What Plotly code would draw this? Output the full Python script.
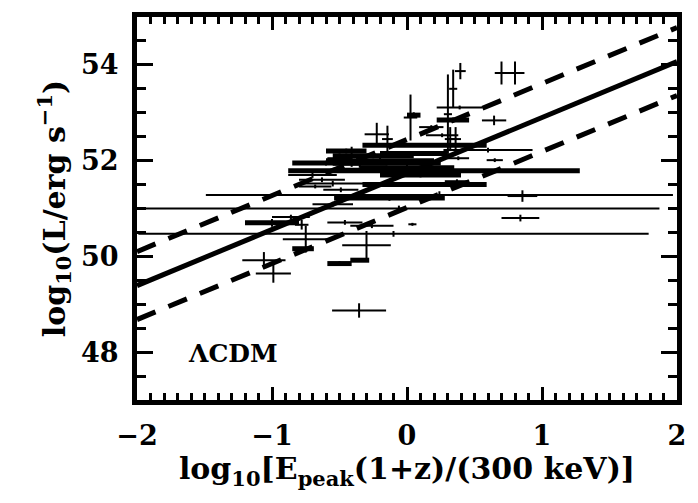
import plotly.graph_objects as go

# Luminosity vs rest-frame peak energy, LambdaCDM distances
# sample with narrow error bars
x_a = [-0.355, -1.06, -0.99, 0.70, 0.80, 0.855, 0.84, 0.645,
       0.24, -0.06, -0.10, 0.60,
       -0.75, -0.30, -0.86, -0.46, -0.26, 0.04, -0.78, -0.55,
       -0.49, -0.68, -0.63, 0.37, -0.41, -0.50, 0.38, 0.65,
       0.26, 0.18, 0.39, -0.224, -0.145, 0.026, 0.395, 0.342,
       0.303, 0.32, 0.36, -0.70, -0.55]
y_a = [48.87, 49.92, 49.64, 53.83, 53.83, 51.26, 50.80, 52.84,
       51.28, 51.00, 50.47, 52.22,
       50.36, 50.23, 50.82, 50.71, 50.64, 50.67, 50.66, 51.09,
       51.39, 51.46, 51.60, 51.57, 52.08, 52.05, 52.05, 52.01,
       52.53, 52.70, 53.11, 52.55, 52.45, 52.90, 53.87, 53.50,
       52.97, 52.45, 52.45, 51.70, 51.52]
xerr_a = [0.20, 0.16, 0.13, 0.05, 0.07, 0.11, 0.14, 0.09,
          1.73, 1.93, 1.89, 0.33,
          0.17, 0.18, 0.14, 0.13, 0.16, 0.03, 0.05, 0.15,
          0.13, 0.12, 0.17, 0.09, 0.09, 0.09, 0.08, 0.06,
          0.12, 0.09, 0.17, 0.09, 0.04, 0.05, 0.04, 0.03,
          0.03, 0.04, 0.04, 0.18, 0.25]
yerr_a = [0.15, 0.17, 0.19, 0.24, 0.24, 0.12, 0.07, 0.10,
          0.08, 0.06, 0.06, 0.05,
          0.28, 0.30, 0.05, 0.05, 0.05, 0.03, 0.10, 0.05,
          0.05, 0.04, 0.05, 0.04, 0.21, 0.10, 0.04, 0.04,
          0.04, 0.04, 0.04, 0.24, 0.28, 0.48, 0.17, 0.40,
          0.83, 0.25, 0.25, 0.06, 0.06]

# sample with broad error bars
x_b = [0.20, -0.35, -0.50, -0.77, -1.00, -0.13, 0.13, -0.20, 0.00,
       -0.35, 0.13, 0.34, 0.05, -0.25, -0.15, 0.05, -0.30, 0.10,
       -0.45, -0.60]
y_b = [51.79, 49.92, 49.85, 50.16, 50.70, 51.22, 51.50, 52.00, 51.85,
       51.95, 52.32, 52.85, 52.95, 52.10, 51.95, 52.15, 51.80, 51.70,
       52.20, 51.95]
xerr_b = [1.08, 0.07, 0.09, 0.08, 0.20, 0.41, 0.46, 0.40, 0.35,
          0.20, 0.46, 0.12, 0.05, 0.30, 0.40, 0.25, 0.25, 0.30,
          0.15, 0.25]
yerr_b = [0.04, 0.03, 0.05, 0.03, 0.08, 0.06, 0.03, 0.08, 0.08,
          0.10, 0.03, 0.05, 0.06, 0.05, 0.05, 0.05, 0.05, 0.05,
          0.05, 0.05]

# best-fit relation and its scatter
fit_slope = 1.17
fit_intercept = 51.73
fit_scatter = 0.71
x_range = [-2, 2]
y_range = [47, 55]

fig = go.Figure()

for xs, ys, ex, ey, th in [(x_a, y_a, xerr_a, yerr_a, 2),
                           (x_b, y_b, xerr_b, yerr_b, 5)]:
    fig.add_trace(go.Scatter(
        x=xs, y=ys, mode="markers",
        marker=dict(size=2, color="black"),
        error_x=dict(type="data", array=ex, visible=True, width=0,
                     thickness=th, color="black"),
        error_y=dict(type="data", array=ey, visible=True, width=0,
                     thickness=2, color="black"),
        showlegend=False, hoverinfo="skip"))

fit_y = [fit_intercept + fit_slope * v for v in x_range]
fig.add_trace(go.Scatter(x=x_range, y=fit_y, mode="lines",
                         line=dict(color="black", width=5),
                         showlegend=False, hoverinfo="skip"))
for sgn in (1, -1):
    fig.add_trace(go.Scatter(
        x=x_range, y=[v + sgn * fit_scatter for v in fit_y], mode="lines",
        line=dict(color="black", width=5, dash="20px,14px"),
        showlegend=False, hoverinfo="skip"))

fig.add_annotation(x=-1.64, y=47.98, xref="x", yref="y", text="ΛCDM",
                   showarrow=False, xanchor="left", yanchor="middle",
                   font=dict(family="DejaVu Serif", size=25, color="black",
                             weight="bold"))

axis_common = dict(showline=True, linewidth=5, linecolor="black",
                   mirror="allticks", ticks="inside", tickwidth=3,
                   tickcolor="black", showgrid=False, zeroline=False,
                   tickfont=dict(family="DejaVu Serif", size=27,
                                 color="black", weight="bold"),
                   title_font=dict(family="DejaVu Serif", size=30,
                                   color="black", weight="bold"))

fig.update_xaxes(range=x_range, tickvals=[-2, -1, 0, 1, 2],
                 ticktext=["−2", "−1", "0", "1", "2"], ticklen=13,
                 ticklabelstandoff=8,
                 minor=dict(dtick=0.1, ticks="inside", ticklen=7,
                            tickwidth=3, tickcolor="black"),
                 title_text="log<sub>10</sub>[E<sub>peak</sub>(1+z)/(300 keV)]",
                 title_standoff=6, **axis_common)
fig.update_yaxes(range=y_range, tickvals=[48, 50, 52, 54], ticklen=16,
                 ticklabelstandoff=8,
                 minor=dict(dtick=0.5, ticks="inside", ticklen=9,
                            tickwidth=3, tickcolor="black"),
                 title_text="log<sub>10</sub>(L/erg s<sup>−1</sup>)",
                 title_standoff=8, **axis_common)

fig.update_layout(width=698, height=503,
                  margin=dict(l=137, r=21, t=13, b=103),
                  paper_bgcolor="white", plot_bgcolor="white")

fig.write_html("out.html")
